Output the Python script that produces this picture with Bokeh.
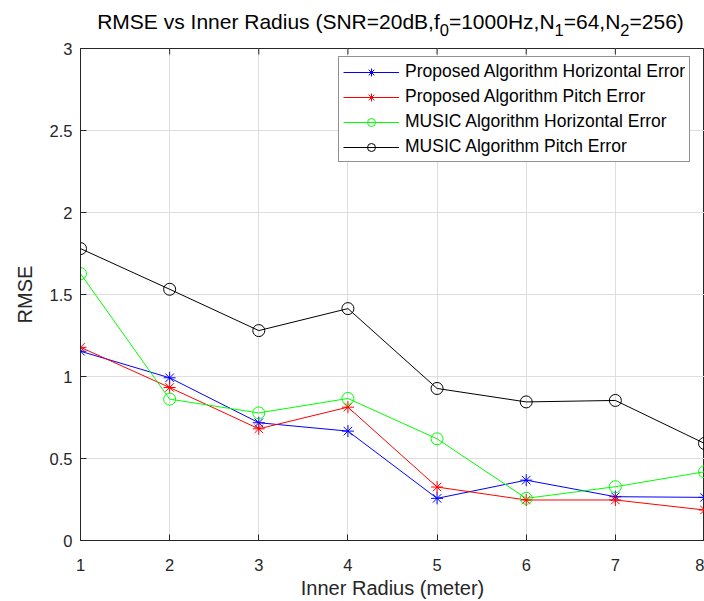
import math
from bokeh.plotting import figure
from bokeh.layouts import column
from bokeh.models import (Range1d, FixedTicker, CustomJSTickFormatter, Legend, LegendItem)
from bokeh.core.properties import value
from bokeh.embed import file_html
from bokeh.resources import INLINE

# ---------------- data ----------------
inner_radius = [1, 2, 3, 4, 5, 6, 7, 8]
proposed_horizontal = [1.154, 0.992, 0.718, 0.667, 0.257, 0.368, 0.267, 0.263]
proposed_pitch = [1.178, 0.933, 0.681, 0.813, 0.326, 0.247, 0.247, 0.186]
music_horizontal = [1.627, 0.862, 0.778, 0.866, 0.620, 0.257, 0.328, 0.419]
music_pitch = [1.780, 1.532, 1.280, 1.414, 0.927, 0.845, 0.854, 0.592]

series_labels = ["Proposed Algorithm Horizontal Error",
                 "Proposed Algorithm Pitch Error",
                 "MUSIC Algorithm Horizontal Error",
                 "MUSIC Algorithm Pitch Error"]
series_colors = ["#0000FF", "#FF0000", "#00FF00", "#000000"]
series_markers = ["asterisk", "asterisk", "circle", "circle"]

x_ticks = [1, 2, 3, 4, 5, 6, 7, 8]
y_ticks = [0, 0.5, 1, 1.5, 2, 2.5, 3]

title_parts = [("RMSE vs Inner Radius (SNR=20dB,f", False), ("0", True),
               ("=1000Hz,N", False), ("1", True), ("=64,N", False), ("2", True),
               ("=256)", False)]
x_label = "Inner Radius (meter)"
y_label = "RMSE"

# ---------------- style ----------------
FONT = "Liberation Sans"
AXC = "#262626"
GRID = "#dedede"
TITLE_SIZE = 21.0
SUB_SIZE = 16.5

# Arial / Liberation Sans advance widths (per 1000 em)
ARIAL = {" ": 278, "(": 333, ")": 333, ",": 278, "=": 584, "A": 667, "B": 667, "C": 722,
         "D": 722, "E": 667, "F": 611, "H": 722, "I": 278, "M": 833, "N": 722, "R": 722,
         "S": 667, "a": 556, "d": 556, "e": 556, "f": 278, "i": 222, "n": 556, "r": 333,
         "s": 500, "u": 556, "v": 500, "z": 500}
for _d in "0123456789":
    ARIAL[_d] = 556


def text_width(s, size):
    return sum(ARIAL.get(c, 556) for c in s) * size / 1000.0


W = 704
LEFT = 80
TITLE_H = 38
MAIN_H = 601 - TITLE_H

# ---------------- title strip (with subscripts) ----------------
# data units of this strip equal page pixels
tf = figure(width=W, height=TITLE_H, output_backend="svg", toolbar_location=None,
            x_range=Range1d(LEFT, W), y_range=Range1d(TITLE_H, 0),
            x_axis_type=None, y_axis_type=None, min_border_left=LEFT,
            min_border_right=0, min_border_top=0, min_border_bottom=0,
            outline_line_color=None, background_fill_color="white",
            border_fill_color="white")
tf.title.visible = False

total = sum(text_width(t, SUB_SIZE if sub else TITLE_SIZE) for t, sub in title_parts)
center_x = 390
cur = center_x - total / 2.0
main_x, main_t, sub_x, sub_t = [], [], [], []
for t, sub in title_parts:
    size = SUB_SIZE if sub else TITLE_SIZE
    if sub:
        sub_x.append(cur)
        sub_t.append(t)
    else:
        main_x.append(cur)
        main_t.append(t)
    cur += text_width(t, size)

tf.text(x=main_x, y=[20.5] * len(main_x), text=main_t, text_font=value(FONT),
        text_font_size=f"{TITLE_SIZE}px", text_color="black", text_align="left",
        text_baseline="alphabetic")
tf.text(x=sub_x, y=[29.0] * len(sub_x), text=sub_t, text_font=value(FONT),
        text_font_size=f"{SUB_SIZE}px", text_color="black", text_align="left",
        text_baseline="alphabetic")

# ---------------- main plot ----------------
p = figure(width=W, height=MAIN_H, output_backend="svg", toolbar_location=None,
           x_range=Range1d(x_ticks[0], x_ticks[-1]), y_range=Range1d(y_ticks[0], y_ticks[-1]),
           min_border_left=LEFT, min_border_right=0, min_border_top=10,
           min_border_bottom=61, background_fill_color="white",
           border_fill_color="white", outline_line_color=AXC, outline_line_width=1)
p.title.visible = False

xa = p.xaxis[0]
xa.ticker = FixedTicker(ticks=x_ticks)
ya = p.yaxis[0]
ya.ticker = FixedTicker(ticks=y_ticks)
ya.formatter = CustomJSTickFormatter(code="return tick.toString();")
for ax in (xa, ya):
    ax.major_tick_in = 6
    ax.major_tick_out = 0
    ax.minor_tick_in = 0
    ax.minor_tick_out = 0
    ax.axis_line_color = AXC
    ax.major_tick_line_color = AXC
    ax.major_label_text_font = FONT
    ax.major_label_text_font_size = "16.5px"
    ax.major_label_text_color = AXC
    ax.axis_label_text_font = FONT
    ax.axis_label_text_font_size = "20px"
    ax.axis_label_text_font_style = "normal"
    ax.axis_label_text_color = AXC
xa.axis_label = x_label
xa.major_label_standoff = 18
xa.axis_label_standoff = 3
ya.axis_label = y_label
ya.major_label_standoff = 8
ya.axis_label_standoff = 11

p.xgrid.ticker = FixedTicker(ticks=x_ticks)
p.ygrid.ticker = FixedTicker(ticks=y_ticks)
p.grid.grid_line_color = GRID
p.grid.grid_line_width = 1

# inward tick marks along the top edge of the box (half of each dash is clipped)
p.scatter(x_ticks, [y_ticks[-1]] * len(x_ticks), marker="dash", angle=math.pi / 2,
          size=12, line_color=AXC, line_width=1)

all_series = [proposed_horizontal, proposed_pitch, music_horizontal, music_pitch]
items = []
for ys, lbl, col, mk in zip(all_series, series_labels, series_colors, series_markers):
    lr = p.line(inner_radius, ys, line_color=col, line_width=1)
    if mk == "asterisk":
        sr = p.scatter(inner_radius, ys, marker="asterisk", size=12, line_color=col,
                       line_width=1)
    else:
        sr = p.scatter(inner_radius, ys, marker="circle", size=12, line_color=col,
                       fill_color=None, line_width=1)
    items.append(LegendItem(label=lbl, renderers=[lr, sr]))

legend = Legend(items=items, location=(258, 378), label_text_font=FONT,
                label_text_font_size="17.5px", label_text_color="black", glyph_width=56,
                glyph_height=20, label_height=20, label_standoff=6, spacing=4, padding=4,
                margin=0, border_line_color=AXC, border_line_width=1,
                background_fill_color="white", background_fill_alpha=1.0)
p.add_layout(legend)

layout = column(tf, p, spacing=0)
open("out.html", "w").write(file_html(layout, INLINE))
